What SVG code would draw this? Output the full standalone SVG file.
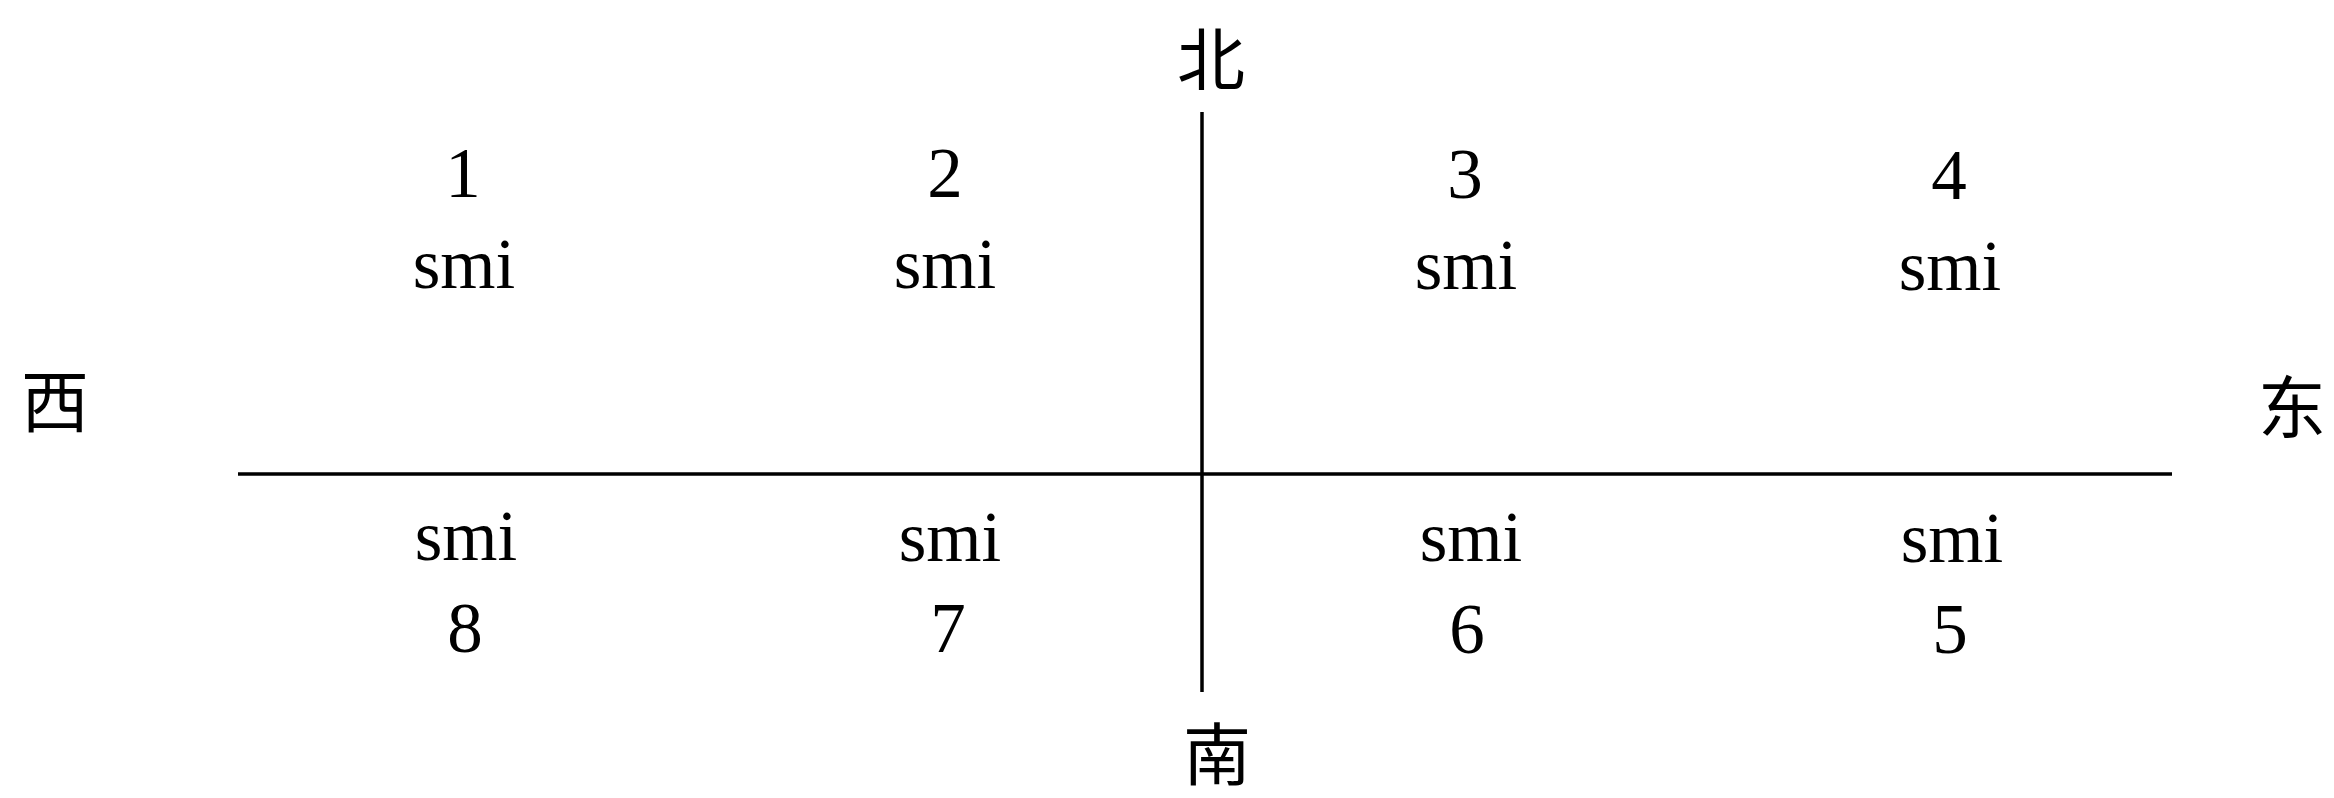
<svg xmlns="http://www.w3.org/2000/svg" width="2334" height="798" viewBox="0 0 2334 798">
<style>
.num{font-family:"Liberation Serif","Times New Roman",serif;font-size:71px;fill:#000;text-anchor:middle}
.cjk{font-family:"Noto Sans CJK SC","Noto Sans CJK TC",sans-serif;font-size:68px;fill:#000;text-anchor:middle}
.ax{stroke:#000;stroke-width:3.5;fill:none}
</style>
<rect width="2334" height="798" fill="#fff"/>
<g id="axes">
<line class="ax" x1="1202" y1="112" x2="1202" y2="692"/>
<line class="ax" x1="238" y1="474" x2="2172" y2="474"/>
</g>
<g id="north"><text class="cjk" x="1211" y="85">北</text></g>
<g id="south"><text class="cjk" x="1217" y="780">南</text></g>
<g id="west"><text class="cjk" x="55" y="427">西</text></g>
<g id="east"><text class="cjk" x="2292" y="433">东</text></g>
<g id="q1"><text class="num" x="463" y="197">1</text><text class="num" x="464" y="288">smi</text></g>
<g id="q2"><text class="num" x="945" y="197">2</text><text class="num" x="945" y="288">smi</text></g>
<g id="q3"><text class="num" x="1465" y="198">3</text><text class="num" x="1466" y="289">smi</text></g>
<g id="q4"><text class="num" x="1949" y="199">4</text><text class="num" x="1950" y="290">smi</text></g>
<g id="q8"><text class="num" x="466" y="560">smi</text><text class="num" x="465" y="652">8</text></g>
<g id="q7"><text class="num" x="950" y="561">smi</text><text class="num" x="948" y="652">7</text></g>
<g id="q6"><text class="num" x="1471" y="561">smi</text><text class="num" x="1467" y="653">6</text></g>
<g id="q5"><text class="num" x="1952" y="562">smi</text><text class="num" x="1950" y="653">5</text></g>
</svg>
